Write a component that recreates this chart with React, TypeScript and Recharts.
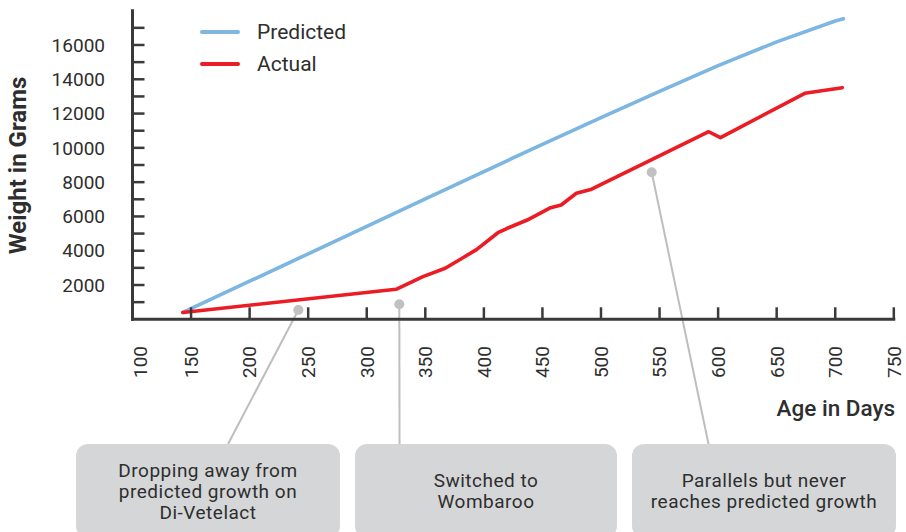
import React from 'react';
import { LineChart, Line, XAxis, YAxis, Legend, ReferenceDot, ReferenceLine } from 'recharts';

// ---- data ----
const predictedDays = [143, 200, 250, 300, 350, 400, 450, 500, 550, 600, 650, 700, 707];
const predictedWeights = [400, 2220, 3820, 5420, 7020, 8620, 10200, 11760, 13290, 14800, 16180, 17400, 17530];

const actualDays = [143, 325, 348, 367, 380, 394, 412, 420, 437, 457, 466, 479, 492, 592, 602, 674, 706];
const actualWeights = [400, 1750, 2490, 2980, 3500, 4080, 5050, 5310, 5790, 6510, 6670, 7350, 7590, 10940, 10600, 13180, 13510];

const seriesNames = ['Predicted', 'Actual'];

const xTicks = [100, 150, 200, 250, 300, 350, 400, 450, 500, 550, 600, 650, 700, 750];
const yTicks = [1000, 2000, 3000, 4000, 5000, 6000, 7000, 8000, 9000, 10000, 11000, 12000, 13000, 14000, 15000, 16000, 17000];

const noteDays = [241.6, 327.8, 543.3];
const noteWeights = [543, 875, 8575];
const noteAnchorDays = [181.6, 328, 591.8];
const noteAnchorWeight = -7270;
const noteTexts = [
  ['Dropping away from', 'predicted growth on', 'Di-Vetelact'],
  ['Switched to', 'Wombaroo'],
  ['Parallels but never', 'reaches predicted growth'],
];

const predicted = predictedDays.map((d, i) => ({ day: d, weight: predictedWeights[i] }));
const actual = actualDays.map((d, i) => ({ day: d, weight: actualWeights[i] }));

const AXIS = '#3a3a3a';
const TEXT = '#2e2e2e';
const BLUE = '#7db6e0';
const RED = '#ec1c24';
const GREY_LINE = '#bebec0';
const BOX = '#d5d6d8';

const XTick = (props: any) => {
  const { x, y, payload } = props;
  const dx = payload.value === 100 ? 8 : 0;
  const px = x + dx;
  return (
    <text
      x={px}
      y={y}
      transform={`rotate(-90, ${px}, ${y})`}
      textAnchor="end"
      dy="0.36em"
      fontSize={19}
      fill={TEXT}
    >
      {payload.value}
    </text>
  );
};

const LegendContent = (props: any) => {
  const items = [...(props.payload || [])].sort(
    (a: any, b: any) => seriesNames.indexOf(a.value) - seriesNames.indexOf(b.value)
  );
  return (
    <div>
      {items.map((entry: any) => (
        <div key={entry.value} style={{ display: 'flex', alignItems: 'center', height: 32 }}>
          <span style={{ display: 'inline-block', width: 40, height: 4, borderRadius: 2, background: entry.color }} />
          <span style={{ marginLeft: 17, fontSize: 21, color: TEXT, lineHeight: '32px' }}>{entry.value}</span>
        </div>
      ))}
    </div>
  );
};

const boxLefts = [76, 355, 632];
const boxWidths = [264, 262, 264];

export default function App() {
  return (
    <div
      style={{
        position: 'relative',
        width: 906,
        height: 532,
        overflow: 'hidden',
        background: '#fff',
        fontFamily: 'Roboto, "Noto Sans", sans-serif',
      }}
    >
      <style>{'body{margin:0;}'}</style>
      <LineChart width={906} height={532} margin={{ top: 10.7, right: 12.2, bottom: 182.7, left: 42.5 }}>
        <XAxis
          dataKey="day"
          type="number"
          domain={[100, 750]}
          ticks={xTicks}
          interval={0}
          height={30}
          tickSize={-12}
          tickMargin={38.7}
          tick={<XTick />}
          axisLine={{ stroke: AXIS, strokeWidth: 3, strokeLinecap: 'square' }}
          tickLine={{ stroke: AXIS, strokeWidth: 2.5 }}
          allowDataOverflow
        />
        <YAxis
          type="number"
          domain={[0, 18000]}
          ticks={yTicks}
          interval={0}
          width={90}
          tickSize={-12}
          tickMargin={39.5}
          tick={{ fill: TEXT, fontSize: 19 }}
          tickFormatter={(v: number) => (v % 2000 === 0 ? String(v) : '')}
          axisLine={{ stroke: AXIS, strokeWidth: 3, strokeLinecap: 'square' }}
          tickLine={{ stroke: AXIS, strokeWidth: 2.5 }}
          allowDataOverflow
        />
        <Legend
          layout="vertical"
          align="center"
          verticalAlign="middle"
          content={<LegendContent />}
          wrapperStyle={{ left: 200, top: 16, width: 'auto', height: 'auto' }}
        />
        {noteDays.map((d, i) => (
          <ReferenceLine
            key={'l' + i}
            segment={[
              { x: d, y: noteWeights[i] },
              { x: noteAnchorDays[i], y: noteAnchorWeight },
            ]}
            stroke={GREY_LINE}
            strokeWidth={2}
            ifOverflow="visible"
          />
        ))}
        <Line
          data={predicted}
          dataKey="weight"
          name={seriesNames[0]}
          type="linear"
          stroke={BLUE}
          strokeWidth={3.6}
          strokeLinecap="round"
          strokeLinejoin="round"
          dot={false}
          activeDot={false}
          isAnimationActive={false}
        />
        <Line
          data={actual}
          dataKey="weight"
          name={seriesNames[1]}
          type="linear"
          stroke={RED}
          strokeWidth={3.6}
          strokeLinecap="round"
          strokeLinejoin="round"
          dot={false}
          activeDot={false}
          isAnimationActive={false}
        />
        {noteDays.map((d, i) => (
          <ReferenceDot
            key={'d' + i}
            x={d}
            y={noteWeights[i]}
            r={5}
            fill="#c1c1c3"
            stroke="none"
            ifOverflow="visible"
          />
        ))}
      </LineChart>

      <svg
        width={906}
        height={532}
        style={{ position: 'absolute', left: 0, top: 0, pointerEvents: 'none' }}
      >
        <text
          transform="rotate(-90)"
          x={-165.5}
          y={26}
          textAnchor="middle"
          fontSize={24}
          fontWeight={700}
          fill={TEXT}
          fontFamily='Roboto, "Noto Sans", sans-serif'
        >
          Weight in Grams
        </text>
        <text
          x={895}
          y={416}
          textAnchor="end"
          fontSize={22.5}
          fontWeight={500}
          fill={TEXT}
          fontFamily='Roboto, "Noto Sans", sans-serif'
        >
          Age in Days
        </text>
      </svg>

      {noteTexts.map((lines, i) => (
        <div
          key={'b' + i}
          style={{
            position: 'absolute',
            left: boxLefts[i],
            top: 444,
            width: boxWidths[i],
            height: 94,
            background: BOX,
            borderRadius: 12,
            display: 'flex',
            flexDirection: 'column',
            alignItems: 'center',
            justifyContent: 'center',
            fontSize: 19,
            lineHeight: '21px',
            letterSpacing: '0.5px',
            color: TEXT,
            textAlign: 'center',
          }}
        >
          {lines.map((t) => (
            <div key={t}>{t}</div>
          ))}
        </div>
      ))}
    </div>
  );
}
